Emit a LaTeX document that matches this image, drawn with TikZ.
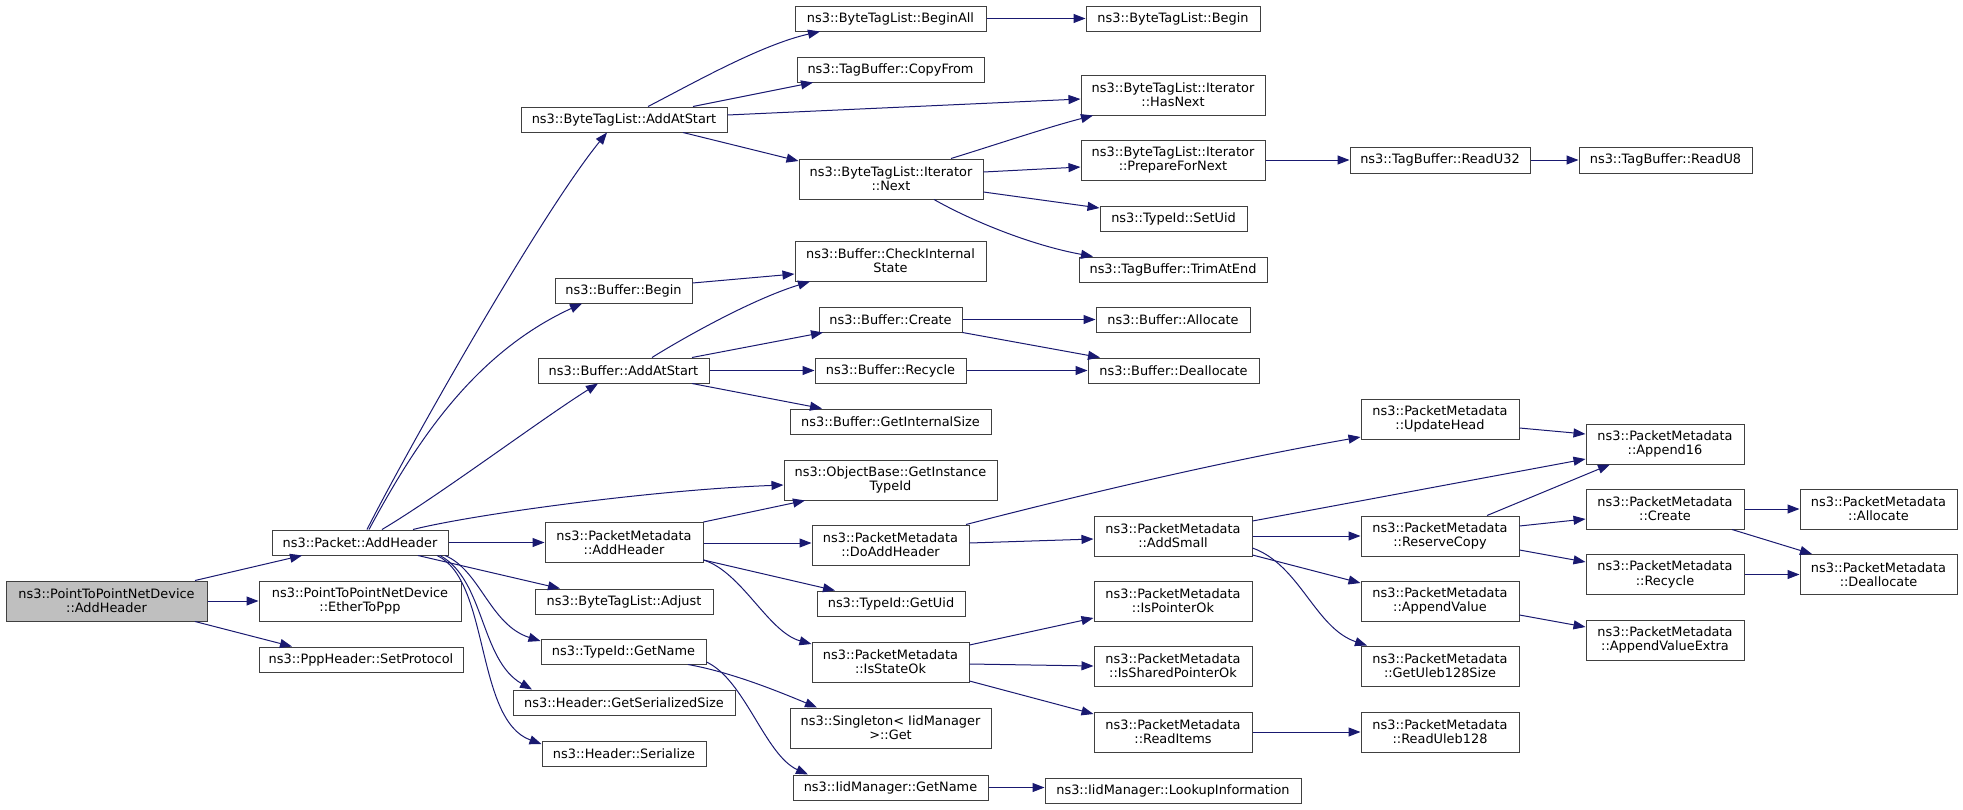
\documentclass[tikz,border=0pt]{standalone}
\usepackage{fontspec}
\setmainfont{DejaVu Sans}
\usetikzlibrary{arrows.meta}
\definecolor{edgeblue}{HTML}{191970}
\definecolor{nodegrey}{HTML}{BFBFBF}
\definecolor{bordergrey}{HTML}{404040}
\begin{document}
\begin{tikzpicture}[x=1pt,y=-1pt,
  box/.style={draw=bordergrey, fill=white, line width=1pt, inner sep=0pt, align=center,
    font=\fontsize{12.9}{14.3}\selectfont},
  edge/.style={draw=edgeblue, line width=1pt, -{Triangle[length=12pt,width=9pt]}}]
\useasboundingbox (0,0) rectangle (1963,809);
% column 1
\node[box, fill=nodegrey, minimum width=201pt, minimum height=40pt] (p2p) at (106.5,601) {ns3::PointToPointNetDevice\\::AddHeader};
% column 2
\node[box, minimum width=176pt, minimum height=25pt] (pkt) at (360,542.5) {ns3::Packet::AddHeader};
\node[box, minimum width=202pt, minimum height=40pt] (ether) at (360,601) {ns3::PointToPointNetDevice\\::EtherToPpp};
\node[box, minimum width=204pt, minimum height=25pt] (setp) at (361,659.5) {ns3::PppHeader::SetProtocol};
% column 3
\node[box, minimum width=206pt, minimum height=25pt] (btlAdd) at (624,119.5) {ns3::ByteTagList::AddAtStart};
\node[box, minimum width=137pt, minimum height=25pt] (bufBegin) at (623.5,290.5) {ns3::Buffer::Begin};
\node[box, minimum width=171pt, minimum height=25pt] (bufAdd) at (623.5,370.5) {ns3::Buffer::AddAtStart};
\node[box, minimum width=158pt, minimum height=40pt] (pmAdd) at (624,542.5) {ns3::PacketMetadata\\::AddHeader};
\node[box, minimum width=178pt, minimum height=25pt] (btlAdj) at (624,601.5) {ns3::ByteTagList::Adjust};
\node[box, minimum width=165pt, minimum height=25pt] (tidName) at (623.5,651.5) {ns3::TypeId::GetName};
\node[box, minimum width=222pt, minimum height=25pt] (hSize) at (624,702.5) {ns3::Header::GetSerializedSize};
\node[box, minimum width=164pt, minimum height=25pt] (hSer) at (624,753.5) {ns3::Header::Serialize};
% column 4
\node[box, minimum width=191pt, minimum height=25pt] (beginAll) at (890.5,18.5) {ns3::ByteTagList::BeginAll};
\node[box, minimum width=187pt, minimum height=25pt] (copyFrom) at (890.5,69.5) {ns3::TagBuffer::CopyFrom};
\node[box, minimum width=184pt, minimum height=40pt] (next) at (891,179) {ns3::ByteTagList::Iterator\\::Next};
\node[box, minimum width=191pt, minimum height=40pt] (checkIS) at (890.5,261) {ns3::Buffer::CheckInternal\\State};
\node[box, minimum width=143pt, minimum height=25pt] (bCreate) at (890.5,319.5) {ns3::Buffer::Create};
\node[box, minimum width=151pt, minimum height=25pt] (bRecycle) at (890.5,370.5) {ns3::Buffer::Recycle};
\node[box, minimum width=201pt, minimum height=25pt] (getIS) at (890.5,421.5) {ns3::Buffer::GetInternalSize};
\node[box, minimum width=213pt, minimum height=40pt] (instTid) at (890.5,480) {ns3::ObjectBase::GetInstance\\TypeId};
\node[box, minimum width=157pt, minimum height=40pt] (doAdd) at (890.5,545) {ns3::PacketMetadata\\::DoAddHeader};
\node[box, minimum width=148pt, minimum height=25pt] (getUid) at (891,603.5) {ns3::TypeId::GetUid};
\node[box, minimum width=157pt, minimum height=40pt] (isState) at (890.5,662) {ns3::PacketMetadata\\::IsStateOk};
\node[box, minimum width=201pt, minimum height=40pt] (single) at (890.5,728) {ns3::Singleton< IidManager\\>::Get};
\node[box, minimum width=195pt, minimum height=25pt] (iidName) at (890.5,787.5) {ns3::IidManager::GetName};
% column 5
\node[box, minimum width=174pt, minimum height=25pt] (btlBegin) at (1173,18.5) {ns3::ByteTagList::Begin};
\node[box, minimum width=184pt, minimum height=40pt] (hasNext) at (1173,95) {ns3::ByteTagList::Iterator\\::HasNext};
\node[box, minimum width=184pt, minimum height=40pt] (prep) at (1173,160) {ns3::ByteTagList::Iterator\\::PrepareForNext};
\node[box, minimum width=147pt, minimum height=25pt] (setUid) at (1173.5,218.5) {ns3::TypeId::SetUid};
\node[box, minimum width=188pt, minimum height=25pt] (trim) at (1173,269.5) {ns3::TagBuffer::TrimAtEnd};
\node[box, minimum width=154pt, minimum height=25pt] (bAlloc) at (1173,319.5) {ns3::Buffer::Allocate};
\node[box, minimum width=171pt, minimum height=25pt] (bDealloc) at (1173.5,370.5) {ns3::Buffer::Deallocate};
\node[box, minimum width=158pt, minimum height=40pt] (addSmall) at (1173,536) {ns3::PacketMetadata\\::AddSmall};
\node[box, minimum width=158pt, minimum height=40pt] (isPtr) at (1173,601) {ns3::PacketMetadata\\::IsPointerOk};
\node[box, minimum width=158pt, minimum height=40pt] (isShared) at (1173,666) {ns3::PacketMetadata\\::IsSharedPointerOk};
\node[box, minimum width=158pt, minimum height=40pt] (readItems) at (1173,732) {ns3::PacketMetadata\\::ReadItems};
\node[box, minimum width=256pt, minimum height=25pt] (lookup) at (1173,790.5) {ns3::IidManager::LookupInformation};
% column 6
\node[box, minimum width=180pt, minimum height=26pt] (readU32) at (1440,160) {ns3::TagBuffer::ReadU32};
\node[box, minimum width=158pt, minimum height=40pt] (updHead) at (1440,419) {ns3::PacketMetadata\\::UpdateHead};
\node[box, minimum width=158pt, minimum height=40pt] (reserve) at (1440,536) {ns3::PacketMetadata\\::ReserveCopy};
\node[box, minimum width=158pt, minimum height=40pt] (appVal) at (1440,601) {ns3::PacketMetadata\\::AppendValue};
\node[box, minimum width=158pt, minimum height=40pt] (uleb) at (1440,666) {ns3::PacketMetadata\\::GetUleb128Size};
\node[box, minimum width=158pt, minimum height=40pt] (readUleb) at (1440,732) {ns3::PacketMetadata\\::ReadUleb128};
% column 7
\node[box, minimum width=173pt, minimum height=26pt] (readU8) at (1665.5,160) {ns3::TagBuffer::ReadU8};
\node[box, minimum width=158pt, minimum height=40pt] (append16) at (1665,444) {ns3::PacketMetadata\\::Append16};
\node[box, minimum width=158pt, minimum height=40pt] (pmCreate) at (1665,509) {ns3::PacketMetadata\\::Create};
\node[box, minimum width=158pt, minimum height=40pt] (pmRecycle) at (1665,574.5) {ns3::PacketMetadata\\::Recycle};
\node[box, minimum width=158pt, minimum height=40pt] (appExtra) at (1665,640) {ns3::PacketMetadata\\::AppendValueExtra};
% column 8
\node[box, minimum width=157pt, minimum height=40pt] (pmAlloc) at (1878.5,509) {ns3::PacketMetadata\\::Allocate};
\node[box, minimum width=157pt, minimum height=40pt] (pmDealloc) at (1878.5,574.5) {ns3::PacketMetadata\\::Deallocate};

% edges from p2p
\draw[edge] (195,0 |- p2p.north) -- (302,0 |- pkt.south);
\draw[edge] (p2p.east) -- (ether.west);
\draw[edge] (195,0 |- p2p.south) -- (292,0 |- setp.north);
% edges from Packet::AddHeader
\draw[edge] (367,0 |- pkt.north) .. controls (410,445) and (540,215) .. (607,0 |- btlAdd.south);
\draw[edge] (369,0 |- pkt.north) .. controls (412,450) and (470,355) .. (582,0 |- bufBegin.south);
\draw[edge] (382,0 |- pkt.north) .. controls (440,495) and (540,420) .. (598,0 |- bufAdd.south);
\draw[edge] (413,0 |- pkt.north) .. controls (470,515) and (650,490) .. (instTid.west |- 0,485);
\draw[edge] (pkt.east) -- (pmAdd.west |- pkt.east);
\draw[edge] (418,0 |- pkt.south) -- (560,0 |- btlAdj.north);
\draw[edge] (445,0 |- pkt.south) .. controls (480,570) and (490,625) .. (tidName.west |- 0,641);
\draw[edge] (440,0 |- pkt.south) .. controls (485,580) and (480,660) .. (532,0 |- hSize.north);
\draw[edge] (437,0 |- pkt.south) .. controls (490,580) and (475,720) .. (hSer.west |- 0,744);
% edges from ByteTagList::AddAtStart
\draw[edge] (648,0 |- btlAdd.north) .. controls (690,85) and (760,45) .. (820,0 |- beginAll.south);
\draw[edge] (693,0 |- btlAdd.north) -- (813,0 |- copyFrom.south);
\draw[edge] (btlAdd.east |- 0,115) -- (hasNext.west |- 0,99);
\draw[edge] (683,0 |- btlAdd.south) -- (next.west |- 0,161);
\draw[edge] (beginAll.east) -- (btlBegin.west);
% edges from Iterator::Next
\draw[edge] (951,0 |- next.north) .. controls (995,145) and (1045,128) .. (1093,0 |- hasNext.south);
\draw[edge] (next.east |- 0,172) -- (prep.west |- 0,167);
\draw[edge] (next.east |- 0,192) -- (setUid.west |- 0,208);
\draw[edge] (934,0 |- next.south) .. controls (970,220) and (1030,245) .. (1093,0 |- trim.north);
\draw[edge] (prep.east) -- (readU32.west);
\draw[edge] (readU32.east) -- (readU8.west);
% buffer edges
\draw[edge] (bufBegin.east |- 0,283) -- (checkIS.west |- 0,274);
\draw[edge] (652,0 |- bufAdd.north) .. controls (680,340) and (750,300) .. (810,0 |- checkIS.south);
\draw[edge] (692,0 |- bufAdd.north) -- (823,0 |- bCreate.south);
\draw[edge] (bufAdd.east) -- (bRecycle.west);
\draw[edge] (692,0 |- bufAdd.south) -- (822,0 |- getIS.north);
\draw[edge] (bCreate.east) -- (bAlloc.west);
\draw[edge] (bCreate.south east) -- (1100,0 |- bDealloc.north);
\draw[edge] (bRecycle.east) -- (bDealloc.west);
% PacketMetadata::AddHeader edges
\draw[edge] (pmAdd.north east) -- (805,0 |- instTid.south);
\draw[edge] (pmAdd.east |- 0,543) -- (doAdd.west |- 0,543);
\draw[edge] (pmAdd.east |- 0,560) -- (835,0 |- getUid.north);
\draw[edge] (pmAdd.east |- 0,560) .. controls (742,572) and (768,632) .. (isState.west |- 0,644);
% DoAddHeader edges
\draw[edge] (966,0 |- doAdd.north) .. controls (1100,490) and (1230,460) .. (updHead.west |- 0,437);
\draw[edge] (doAdd.east |- 0,543) -- (addSmall.west |- 0,539);
% AddSmall edges
\draw[edge] (addSmall.east |- 0,521) -- (append16.west |- 0,459);
\draw[edge] (addSmall.east) -- (reserve.west);
\draw[edge] (addSmall.east |- 0,555) -- (appVal.west |- 0,583);
\draw[edge] (addSmall.east |- 0,548) .. controls (1300,565) and (1315,628) .. (1367,0 |- uleb.north);
% column 6 edges
\draw[edge] (updHead.east |- 0,428) -- (append16.west |- 0,434);
\draw[edge] (1487,0 |- reserve.north) -- (1610,0 |- append16.south);
\draw[edge] (reserve.east |- 0,526) -- (pmCreate.west |- 0,519);
\draw[edge] (reserve.east |- 0,550) -- (pmRecycle.west |- 0,562);
\draw[edge] (appVal.east |- 0,615) -- (appExtra.west |- 0,627);
\draw[edge] (pmCreate.east) -- (pmAlloc.west);
\draw[edge] (1732,0 |- pmCreate.south) -- (1812,0 |- pmDealloc.north);
\draw[edge] (pmRecycle.east) -- (pmDealloc.west);
% IsStateOk edges
\draw[edge] (isState.east |- 0,645) -- (isPtr.west |- 0,618);
\draw[edge] (isState.east |- 0,664) -- (isShared.west |- 0,666);
\draw[edge] (isState.east |- 0,681) -- (readItems.west |- 0,714);
\draw[edge] (readItems.east) -- (readUleb.west);
% TypeId::GetName edges
\draw[edge] (688,0 |- tidName.south) .. controls (730,672) and (775,690) .. (817,0 |- single.north);
\draw[edge] (tidName.east |- 0,662) .. controls (745,680) and (765,755) .. (808,0 |- iidName.north);
\draw[edge] (iidName.east) -- (lookup.west |- iidName.east);
\end{tikzpicture}
\end{document}
